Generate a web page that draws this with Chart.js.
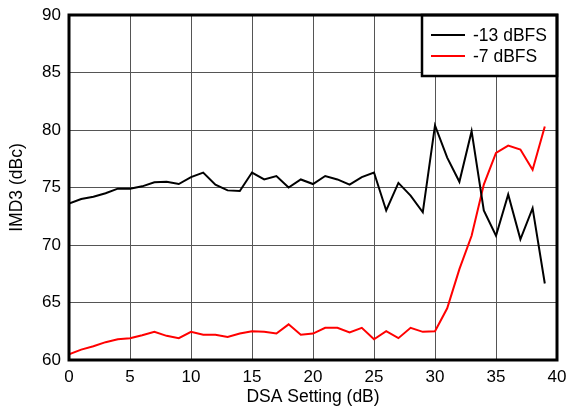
<!DOCTYPE html>
<html>
<head>
<meta charset="utf-8">
<script src="https://cdn.jsdelivr.net/npm/chart.js@4.4.1/dist/chart.umd.min.js"></script>
<style>
  html, body { margin: 0; padding: 0; background: #fff; }
  #wrap { width: 568px; height: 411px; }
</style>
</head>
<body>
<div id="wrap"><canvas id="imdChart" width="568" height="411"></canvas></div>
<script>
// datos
const dsaSetting = [0, 1, 2, 3, 4, 5, 6, 7, 8, 9, 10, 11, 12, 13, 14, 15, 16, 17, 18, 19,
                    20, 21, 22, 23, 24, 25, 26, 27, 28, 29, 30, 31, 32, 33, 34, 35, 36, 37, 38, 39];

const imd13 = [73.6, 74.0, 74.2, 74.5, 74.9, 74.9, 75.1, 75.45, 75.5, 75.3,
               75.9, 76.3, 75.25, 74.75, 74.7, 76.3, 75.7, 76.0, 75.0, 75.7,
               75.3, 76.0, 75.7, 75.25, 75.9, 76.3, 73.0, 75.4, 74.3, 72.85,
               80.4, 77.6, 75.5, 79.9, 73.0, 70.8, 74.4, 70.5, 73.2, 66.65];

const imd7 = [60.5, 60.9, 61.2, 61.55, 61.8, 61.9, 62.15, 62.45, 62.1, 61.9,
              62.45, 62.2, 62.2, 62.0, 62.3, 62.5, 62.45, 62.3, 63.1, 62.2,
              62.3, 62.8, 62.8, 62.4, 62.8, 61.8, 62.5, 61.9, 62.8, 62.45,
              62.5, 64.5, 67.9, 70.8, 75.25, 78.0, 78.65, 78.3, 76.55, 80.3];

const xTicks = [0, 5, 10, 15, 20, 25, 30, 35, 40];
const yTicks = [60, 65, 70, 75, 80, 85, 90];

const FONT = "'Liberation Sans', Arial, sans-serif";

function toPoints(xs, ys) {
    return xs.map((x, i) => ({ x: x, y: ys[i] }));
}

// marco y leyenda dentro del area
const framePlugin = {
    id: 'frameLegend',
    afterDraw(chart) {
        const { ctx, chartArea: a } = chart;
        ctx.save();
        // leyenda
        const lx = 422, ly = a.top, lw = a.right - lx, lh = 61;
        ctx.fillStyle = '#fff';
        ctx.fillRect(lx, ly, lw, lh);
        ctx.strokeStyle = '#000';
        ctx.lineWidth = 2.5;
        ctx.strokeRect(lx, ly, lw, lh);
        ctx.font = '17.5px ' + FONT;
        ctx.textBaseline = 'middle';
        chart.data.datasets.forEach((ds, i) => {
            const y = 35 + i * 21;
            ctx.strokeStyle = ds.borderColor;
            ctx.lineWidth = 2;
            ctx.beginPath();
            ctx.moveTo(431, y);
            ctx.lineTo(465, y);
            ctx.stroke();
            ctx.fillStyle = '#000';
            ctx.fillText(ds.label, 473, y + 1);
        });
        // marco
        ctx.strokeStyle = '#000';
        ctx.lineWidth = 3;
        ctx.strokeRect(a.left, a.top, a.right - a.left, a.bottom - a.top);
        ctx.restore();
    }
};

new Chart(document.getElementById('imdChart'), {
    type: 'line',
    data: {
        datasets: [
            {
                label: '-13 dBFS',
                data: toPoints(dsaSetting, imd13),
                borderColor: '#000000',
                borderWidth: 2,
                pointRadius: 0,
                tension: 0
            },
            {
                label: '-7 dBFS',
                data: toPoints(dsaSetting, imd7),
                borderColor: '#ff0000',
                borderWidth: 2,
                pointRadius: 0,
                tension: 0
            }
        ]
    },
    options: {
        responsive: false,
        animation: false,
        events: [],
        layout: { padding: { top: 15, right: 11, left: 0, bottom: 0 } },
        plugins: { legend: { display: false }, tooltip: { enabled: false } },
        scales: {
            x: {
                type: 'linear',
                min: 0, max: 40,
                afterBuildTicks(scale) { scale.ticks = xTicks.map(v => ({ value: v })); },
                afterFit(scale) {
                    scale.height = 51;
                    scale.paddingLeft = 0;
                    scale.paddingRight = 0;
                },
                grid: { color: '#555', lineWidth: 1, drawTicks: false },
                border: { display: false },
                ticks: { color: '#000', font: { family: FONT, size: 17 }, padding: 7, maxRotation: 0 },
                title: { display: true, text: 'DSA Setting (dB)', color: '#000', font: { family: FONT, size: 17.5 }, padding: { top: 0, bottom: 3 } }
            },
            y: {
                min: 60, max: 90,
                afterBuildTicks(scale) { scale.ticks = yTicks.map(v => ({ value: v })); },
                afterFit(scale) {
                    scale.width = 69;
                    scale.paddingTop = 0;
                    scale.paddingBottom = 0;
                },
                grid: { color: '#555', lineWidth: 1, drawTicks: false },
                border: { display: false },
                ticks: { color: '#000', font: { family: FONT, size: 17 }, padding: 8 },
                title: { display: true, text: 'IMD3 (dBc)', color: '#000', font: { family: FONT, size: 17.5 }, padding: { top: 7, bottom: 0 } }
            }
        }
    },
    plugins: [framePlugin]
});
</script>
</body>
</html>
